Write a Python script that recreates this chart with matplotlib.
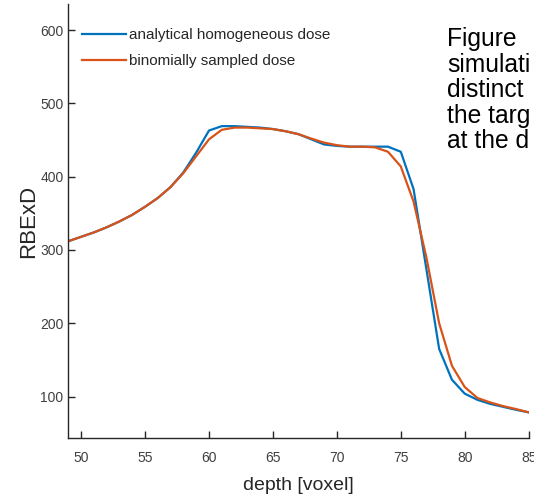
import matplotlib
matplotlib.use("Agg")
import matplotlib.pyplot as plt

# depth in voxels and the two dose curves
depth = list(range(49, 86))
analytical = [312, 318, 324, 331, 339, 348, 359, 371, 386, 406, 433, 463, 469, 469, 468, 467, 465, 462,
              458, 451, 444, 442, 441, 441, 441, 441, 434, 383, 274, 165, 123, 104, 95.5, 90, 86, 82, 78.5]
binomial = [312, 318, 324, 331, 339, 348, 359, 371, 386, 405, 428, 451, 464, 467, 467, 466, 465, 462,
            458, 452, 446.5, 443, 441, 441, 440, 434, 414, 366, 290, 200, 142, 113, 98, 92, 87, 83, 78.5]

xticks = [50, 55, 60, 65, 70, 75, 80, 85]
yticks = [100, 200, 300, 400, 500, 600]
side_text = ["Figure", "simulati", "distinct", "the targ", "at the d"]

plain = ["Liberation Sans", "DejaVu Sans"]

fig = plt.figure(figsize=(5.34, 4.97), dpi=100)
ax = fig.add_axes([0.128, 0.118, 0.862, 0.873])

ax.plot(depth, analytical, color="#0072BD", lw=1.6, label="analytical homogeneous dose")
ax.plot(depth, binomial, color="#D95319", lw=1.6, label="binomially sampled dose")

ax.set_xlim(49, 85)
ax.set_ylim(43, 635)
ax.set_xticks(xticks)
ax.set_yticks(yticks)

for s in ["top", "right"]:
    ax.spines[s].set_visible(False)
for s in ["left", "bottom"]:
    ax.spines[s].set_color("#262626")
    ax.spines[s].set_linewidth(1.0)

ax.tick_params(direction="in", length=5, width=1, colors="#262626", labelcolor="#404040", labelsize=10)
ax.tick_params(axis="x", pad=9)
for lab in ax.get_xticklabels() + ax.get_yticklabels():
    lab.set_family(plain)

ax.set_xlabel("depth [voxel]", family=plain, fontsize=14, color="#262626", labelpad=9)
ax.set_ylabel("RBExD", family=plain, fontsize=16, color="#262626", labelpad=1)

leg = ax.legend(loc="upper left", frameon=False, prop={"family": plain, "size": 11},
                handlelength=2.9, handletextpad=0.15, borderaxespad=0.2, labelspacing=0.78,
                bbox_to_anchor=(0.01, 0.967))
for t in leg.get_texts():
    t.set_color("#262626")

for i, line in enumerate(side_text):
    fig.text(447 / 534, 1 - (39 + i * 25.5) / 497, line, family=plain, fontsize=17.7,
             color="black", va="center", ha="left")

fig.savefig("out.png", dpi=100)
